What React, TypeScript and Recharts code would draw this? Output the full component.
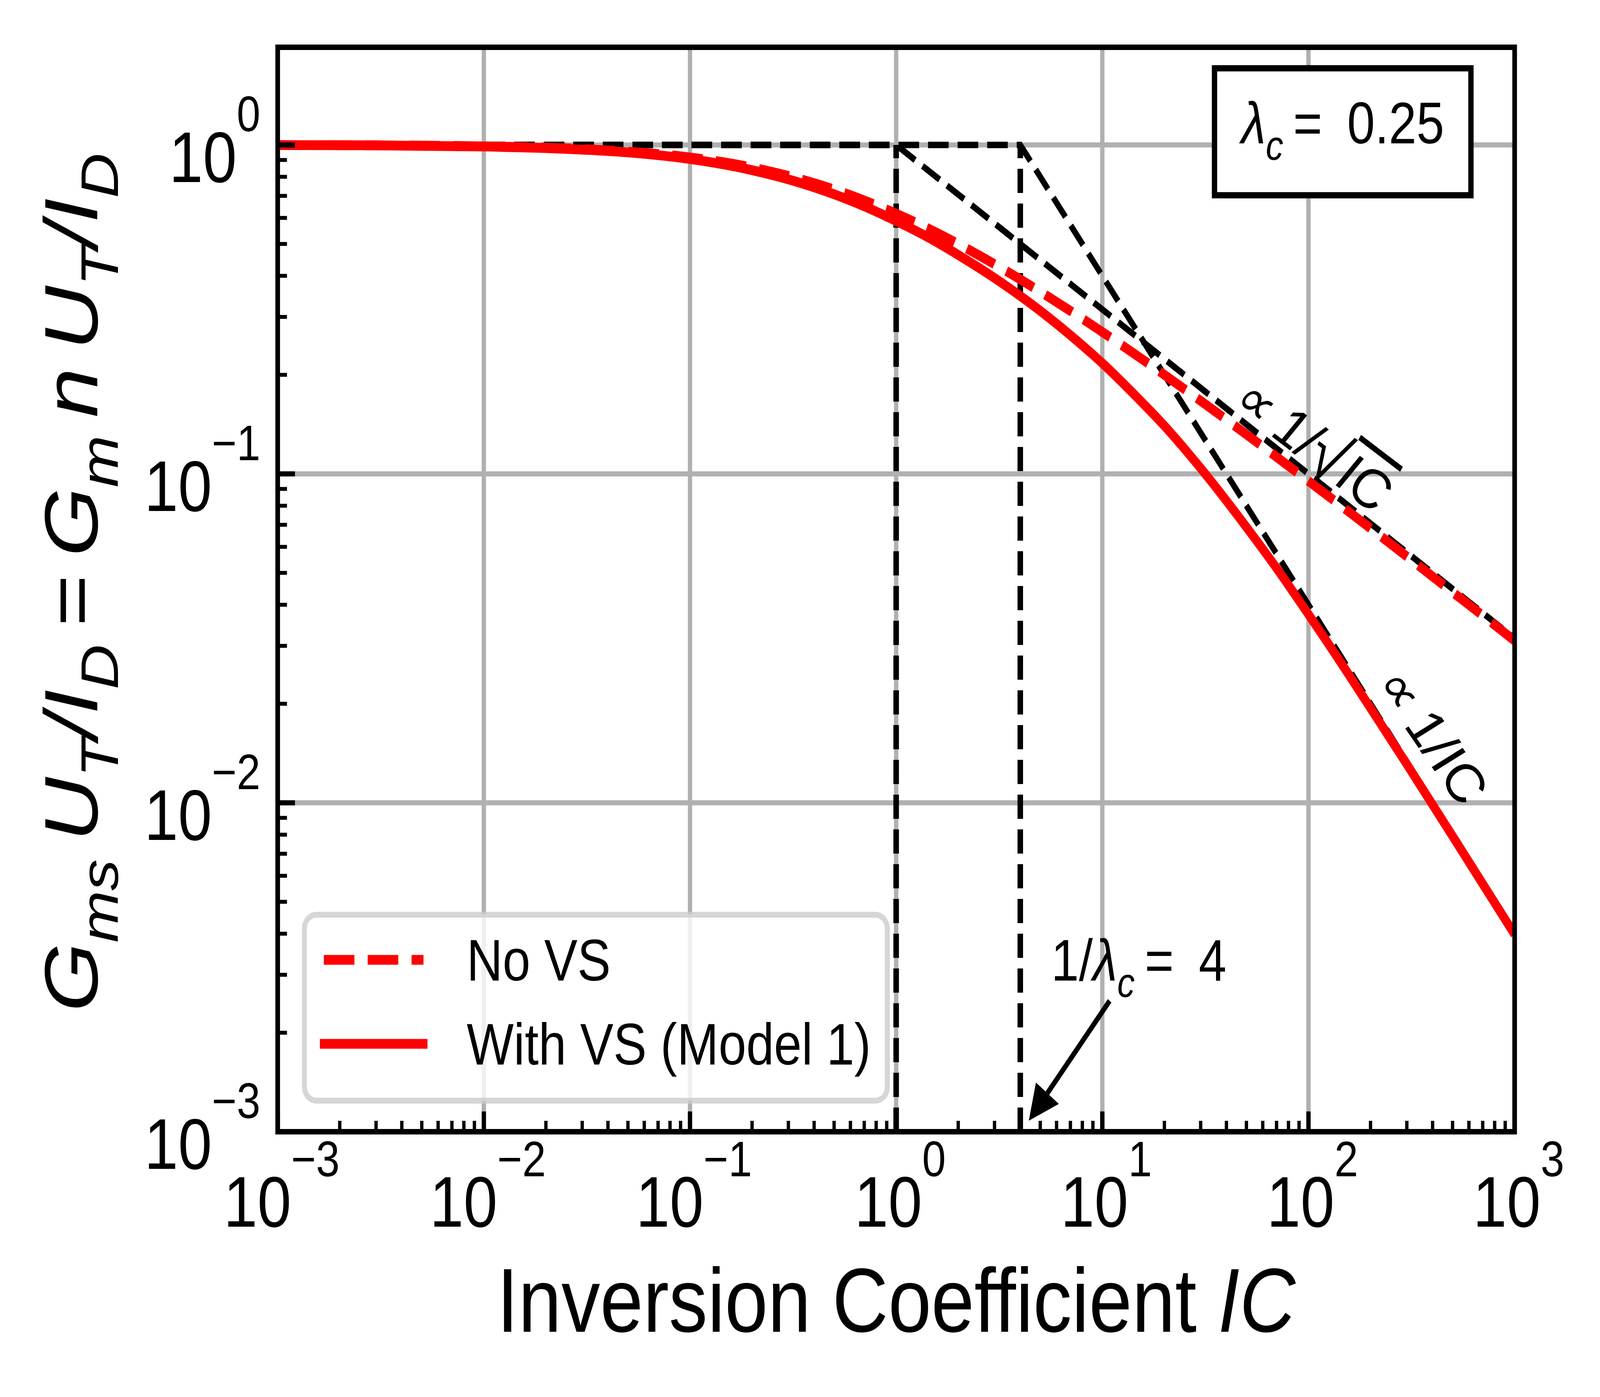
import React from 'react';
import {
  LineChart, Line, XAxis, YAxis, ReferenceLine, ReferenceArea, ReferenceDot, Legend,
} from 'recharts';

const FONT = '"Liberation Sans", Arial, Helvetica, sans-serif';
const W = 4817;
const H = 3576;

// inversion coefficient sample points
const IC_POINTS = [0.001, 0.003, 0.01, 0.02, 0.05, 0.1, 0.2, 0.3, 0.5, 0.7, 1, 1.5, 2, 3, 5, 7, 10, 15, 20, 30, 50, 70, 100, 150, 200, 300, 500, 700, 1000];
const NO_VS = [0.999, 0.997, 0.990, 0.981, 0.954, 0.916, 0.854, 0.805, 0.732, 0.678, 0.618, 0.549, 0.500, 0.434, 0.358, 0.313, 0.270, 0.227, 0.200, 0.1667, 0.1318, 0.1126, 0.0951, 0.0784, 0.0683, 0.0561, 0.0437, 0.0371, 0.0311];
const WITH_VS = [0.999, 0.997, 0.989, 0.978, 0.949, 0.906, 0.838, 0.786, 0.708, 0.651, 0.587, 0.515, 0.463, 0.394, 0.313, 0.264, 0.217, 0.169, 0.140, 0.104, 0.0689, 0.0517, 0.0374, 0.0256, 0.0194, 0.0131, 0.00792, 0.00567, 0.00398];

// asymptotes
const SQRT_ASYM_IC = [0.001, 1, 1000];
const SQRT_ASYM_V = [1, 1, 0.0316];
const INV_ASYM_IC = [0.001, 4, 1000];
const INV_ASYM_V = [1, 1, 0.004];
const MARKER_IC = [1, 4];
const MARKER_V = [0.001, 1];

const SERIES_NAMES = ['No VS', 'With VS (Model 1)'];

const X_DOMAIN = [0.001, 1000];
const Y_DOMAIN = [0.001, 1.981];
const X_MAJOR = [0.001, 0.01, 0.1, 1, 10, 100, 1000];
const Y_MAJOR = [0.001, 0.01, 0.1, 1];
const X_GRID = [0.01, 0.1, 1, 10, 100];
const Y_GRID = [0.01, 0.1, 1];

const minorsOf = (majors: number[]) =>
  majors.slice(0, -1).flatMap((m) => [2, 3, 4, 5, 6, 7, 8, 9].map((k) => +(k * m).toPrecision(3)));
const X_TICKS = [...X_MAJOR, ...minorsOf(X_MAJOR)].sort((a, b) => a - b);
const Y_TICKS = [...Y_MAJOR, ...minorsOf(Y_MAJOR)].sort((a, b) => a - b);

const zip = (xs: number[], ys: number[]) => xs.map((ic, i) => ({ ic, v: ys[i] }));
const noVsData = zip(IC_POINTS, NO_VS);
const withVsData = zip(IC_POINTS, WITH_VS);
const sqrtAsym = zip(SQRT_ASYM_IC, SQRT_ASYM_V);
const invAsym = zip(INV_ASYM_IC, INV_ASYM_V);
const markers = MARKER_IC.map((ic) => MARKER_V.map((v) => ({ ic, v })));

const isMajor = (v: number) => Math.abs(Math.log10(v) - Math.round(Math.log10(v))) < 1e-6;
const expText = (v: number) => {
  const e = Math.round(Math.log10(v));
  return e < 0 ? `\u2212${-e}` : `${e}`;
};

const renderXTick = (props: any) => {
  const { x, y, payload } = props;
  const v = payload.value;
  const major = isMajor(v);
  return (
    <g>
      <line x1={x} x2={x} y1={y} y2={y - (major ? 52 : 28)} stroke="#000" strokeWidth={major ? 13 : 10} />
      {major && (
        <text x={x + 12} y={y + 243} textAnchor="middle" fontFamily={FONT} fill="#000">
          <tspan fontSize={183}>10</tspan>
          <tspan fontSize={128} dy={-129}>{expText(v)}</tspan>
        </text>
      )}
    </g>
  );
};

const renderYTick = (props: any) => {
  const { x, y, payload } = props;
  const v = payload.value;
  const major = isMajor(v);
  return (
    <g>
      <line x1={x} x2={x + (major ? 52 : 28)} y1={y} y2={y} stroke="#000" strokeWidth={major ? 13 : 10} />
      {major && (
        <text x={x - 52} y={y + 95} textAnchor="end" fontFamily={FONT} fill="#000">
          <tspan fontSize={183}>10</tspan>
          <tspan fontSize={128} dy={-130}>{expText(v)}</tspan>
        </text>
      )}
    </g>
  );
};

const renderXLabel = (props: any) => {
  const vb = props.viewBox || { x: 836, y: 2897, width: 3724 };
  return (
    <text x={vb.x + vb.width / 2} y={vb.y + 512} textAnchor="middle" fontFamily={FONT} fontSize={233} fill="#000">
      Inversion Coefficient <tspan fontStyle="italic">IC</tspan>
    </text>
  );
};

const renderYLabel = (props: any) => {
  const vb = props.viewBox || { x: 536, y: 121, width: 300, height: 2776 };
  const x = vb.x + vb.width - 543;
  const y = vb.y + vb.height / 2 - 18;
  const sub = { fontSize: 160, dy: 62 } as const;
  const back = { dy: -62 } as const;
  return (
    <text x={x} y={y} transform={`rotate(-90 ${x} ${y})`} textAnchor="middle" fontFamily={FONT} fontSize={228} fill="#000" fontStyle="italic">
      G<tspan {...sub}>ms</tspan>
      <tspan {...back}>{'\u2009U'}</tspan><tspan {...sub}>T</tspan>
      <tspan {...back}>/I</tspan><tspan {...sub}>D</tspan>
      <tspan {...back} fontStyle="normal">{'\u2009=\u2009'}</tspan>
      G<tspan {...sub}>m</tspan>
      <tspan {...back}>{'\u2009n\u2009U'}</tspan><tspan {...sub}>T</tspan>
      <tspan {...back}>/I</tspan><tspan {...sub}>D</tspan>
    </text>
  );
};

const renderLambdaBox = ({ cx, cy }: any) => (
  <g>
    <rect x={cx - 386} y={cy - 162} width={772} height={325} fill="#fff" stroke="#000" strokeWidth={16} />
    <text x={cx} y={cy + 30} textAnchor="middle" fontFamily={FONT} fontSize={150} fill="#000">
      <tspan fontStyle="italic">λ</tspan>
      <tspan fontStyle="italic" fontSize={105} dy={42}>c</tspan>
      <tspan dy={-42}>{'\u2009=\u20020.25'}</tspan>
    </text>
  </g>
);

const renderLambdaNote = ({ cx, cy }: any) => (
  <text x={cx} y={cy} fontFamily={FONT} fontSize={150} fill="#000">
    1/<tspan fontStyle="italic">λ</tspan>
    <tspan fontStyle="italic" fontSize={105} dy={42}>c</tspan>
    <tspan dy={-42}>{'\u2009=\u20024'}</tspan>
  </text>
);

const renderSqrtNote = ({ cx, cy }: any) => (
  <text x={cx} y={cy} transform={`rotate(33 ${cx} ${cy})`} textAnchor="middle" dominantBaseline="central"
    fontFamily={FONT} fontSize={150} fontStyle="italic" fill="#000">
    ∝ 1/<tspan fontSize={185} fontStyle="normal">√</tspan><tspan textDecoration="overline">IC</tspan>
  </text>
);

const renderInvNote = ({ cx, cy }: any) => (
  <text x={cx} y={cy} transform={`rotate(51 ${cx} ${cy})`} textAnchor="middle" dominantBaseline="central"
    fontFamily={FONT} fontSize={150} fontStyle="italic" fill="#000">
    ∝ 1/IC
  </text>
);

const renderArrow = (props: any) => {
  const { x1, y1, x2, y2 } = props;
  const dx = x2 - x1;
  const dy = y2 - y1;
  const len = Math.sqrt(dx * dx + dy * dy);
  const ux = dx / len;
  const uy = dy / len;
  const bx = x2 - ux * 90;
  const by = y2 - uy * 90;
  const px = -uy * 44;
  const py = ux * 44;
  return (
    <g>
      <line x1={x1} y1={y1} x2={bx} y2={by} stroke="#000" strokeWidth={14} />
      <polygon points={`${x2},${y2} ${bx + px},${by + py} ${bx - px},${by - py}`} fill="#000" />
    </g>
  );
};

const renderLegend = () => (
  <svg width={1770} height={491} style={{ display: 'block' }}>
    <rect x={7.5} y={7.5} width={1755} height={476} rx={36} fill="#fff" fillOpacity={0.8}
      stroke="#cccccc" strokeOpacity={0.8} strokeWidth={15} />
    <line x1={66} x2={366} y1={123} y2={123} stroke="#ff0000" strokeWidth={25} strokeDasharray="92 40" />
    <text x={496} y={176} fontFamily={FONT} fontSize={150} fill="#000">{SERIES_NAMES[0]}</text>
    <line x1={54} x2={378} y1={338} y2={338} stroke="#ff0000" strokeWidth={25} />
    <text x={496} y={391} fontFamily={FONT} fontSize={150} fill="#000">{SERIES_NAMES[1]}</text>
  </svg>
);

const BLACK_DASH = { stroke: '#000', strokeWidth: 16.7, strokeDasharray: '62 27' };

export default function App() {
  // the window may come out smaller than the figure: stretch the figure onto it
  const vw = typeof window !== 'undefined' ? window.innerWidth : W;
  const vh = typeof window !== 'undefined' ? window.innerHeight : H;
  const sx = Math.min(1, vw / W);
  const sy = Math.min(1, vh / H);
  const scaled = sx < 1 || sy < 1;
  return (
    <div style={{
      position: 'absolute', left: 0, top: 0, width: W, height: H, background: '#fff',
      transform: scaled ? `scale(${sx}, ${sy})` : undefined, transformOrigin: '0 0',
    }}>
      <LineChart width={W} height={H} margin={{ top: 121, right: 257, bottom: 379, left: 536 }}>
        <XAxis dataKey="ic" type="number" scale="log" domain={X_DOMAIN} allowDataOverflow
          ticks={X_TICKS} interval={0} tick={renderXTick} tickLine={false} axisLine={false}
          tickSize={0} tickMargin={0} height={300} label={renderXLabel} />
        <YAxis dataKey="v" type="number" scale="log" domain={Y_DOMAIN} allowDataOverflow
          ticks={Y_TICKS} interval={0} tick={renderYTick} tickLine={false} axisLine={false}
          tickSize={0} tickMargin={0} width={300} label={renderYLabel} />

        {X_GRID.map((v) => (
          <ReferenceLine key={`gx${v}`} x={v} stroke="#b0b0b0" strokeWidth={13} zIndex={-100} />
        ))}
        {Y_GRID.map((v) => (
          <ReferenceLine key={`gy${v}`} y={v} stroke="#b0b0b0" strokeWidth={13} zIndex={-100} />
        ))}

        <Line data={sqrtAsym} dataKey="v" name="sqrtAsym" type="linear" {...BLACK_DASH}
          dot={false} activeDot={false} legendType="none" isAnimationActive={false} />
        <Line data={invAsym} dataKey="v" name="invAsym" type="linear" {...BLACK_DASH}
          dot={false} activeDot={false} legendType="none" isAnimationActive={false} />
        {markers.map((m, i) => (
          <Line key={`mk${i}`} data={m} dataKey="v" name={`marker${i}`} type="linear" {...BLACK_DASH}
            dot={false} activeDot={false} legendType="none" isAnimationActive={false} />
        ))}

        <Line data={withVsData} dataKey="v" name={SERIES_NAMES[1]} type="monotone" stroke="#ff0000"
          strokeWidth={25} dot={false} activeDot={false} isAnimationActive={false} />
        <Line data={noVsData} dataKey="v" name={SERIES_NAMES[0]} type="monotone" stroke="#ff0000"
          strokeWidth={25} strokeDasharray="92 40" dot={false} activeDot={false} isAnimationActive={false} />

        <ReferenceLine segment={[{ x: 10.85, y: 0.0025 }, { x: 4.4, y: 0.00108 }]} shape={renderArrow}
          ifOverflow="visible" zIndex={700} />
        <ReferenceDot x={5.65} y={0.00288} r={0} shape={renderLambdaNote} ifOverflow="visible" zIndex={700} />
        <ReferenceDot x={104} y={0.124} r={0} shape={renderSqrtNote} ifOverflow="visible" zIndex={700} />
        <ReferenceDot x={393} y={0.0162} r={0} shape={renderInvNote} ifOverflow="visible" zIndex={700} />
        <ReferenceDot x={146.6} y={1.098} r={0} shape={renderLambdaBox} ifOverflow="visible" zIndex={700} />

        <ReferenceArea x1={X_DOMAIN[0]} x2={X_DOMAIN[1]} y1={Y_DOMAIN[0]} y2={Y_DOMAIN[1]}
          fill="none" fillOpacity={0} stroke="#000" strokeWidth={14} ifOverflow="visible" zIndex={800} />

        <Legend layout="vertical" align="center" verticalAlign="middle" content={renderLegend}
          wrapperStyle={{ left: 909, top: 2334, width: 1770, height: 491, lineHeight: 0 }} />
      </LineChart>
    </div>
  );
}
